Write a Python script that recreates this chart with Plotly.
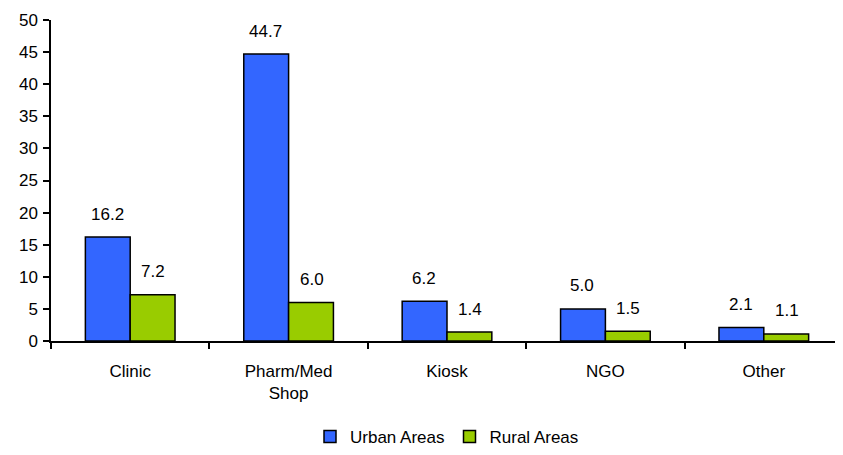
import plotly.graph_objects as go

categories = ["Clinic", "Pharm/Med<br>Shop", "Kiosk", "NGO", "Other"]
urban = [16.2, 44.7, 6.2, 5.0, 2.1]
rural = [7.2, 6.0, 1.4, 1.5, 1.1]

font = dict(family="Liberation Sans, Arial, sans-serif", size=17, color="black")

fig = go.Figure()
fig.add_trace(go.Bar(x=categories, y=urban, name="Urban Areas",
                     marker=dict(color="#3366FF", line=dict(color="black", width=1.5))))
fig.add_trace(go.Bar(x=categories, y=rural, name="Rural Areas",
                     marker=dict(color="#99CC00", line=dict(color="black", width=1.5))))

# value labels above each bar
for vals, shift in ((urban, -23), (rural, 23)):
    for c, v in zip(categories, vals):
        fig.add_annotation(x=c, y=v, text=f"{v:.1f}", showarrow=False,
                           xshift=shift, yshift=23, font=font)

# page body adds 8px margin, so size the figure to fit the window
fig.update_layout(
    width=835, height=447,
    margin=dict(l=43, r=0, t=12, b=110),
    plot_bgcolor="white", paper_bgcolor="white",
    font=font,
    barmode="group", bargap=0.434, bargroupgap=0,
    showlegend=True,
    legend=dict(orientation="h", x=0.5, xanchor="center", y=-0.30, yanchor="middle",
                font=font, itemwidth=30, traceorder="normal"),
)
fig.update_xaxes(showline=True, linecolor="black", linewidth=1.5, ticks="outside",
                 tickson="boundaries", ticklen=6, tickcolor="black", tickwidth=1.5,
                 ticklabelstandoff=14, showgrid=False, automargin=False)
fig.update_yaxes(range=[0, 50], dtick=5, showline=True, linecolor="black", linewidth=1.5,
                 ticks="outside", ticklen=6, tickcolor="black", tickwidth=1.5,
                 ticklabelstandoff=2, showgrid=False, zeroline=False, automargin=False)

fig.write_html("out.html")
